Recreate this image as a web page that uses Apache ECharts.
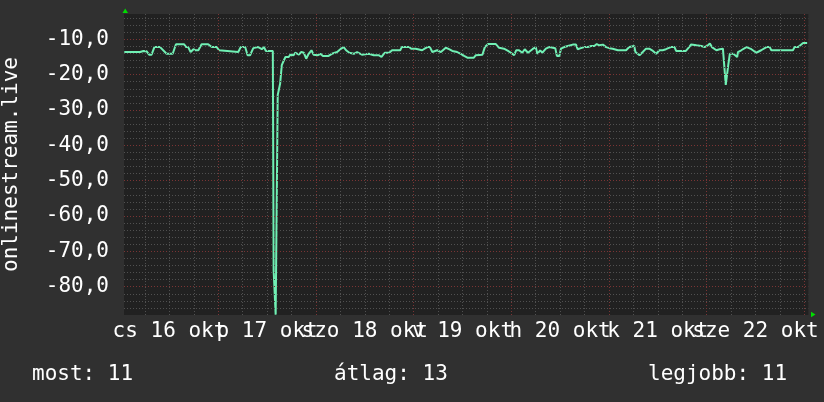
<!DOCTYPE html>
<html>
<head>
<meta charset="utf-8">
<script src="https://cdn.jsdelivr.net/npm/echarts@6/dist/echarts.min.js"></script>
<style>
html,body{margin:0;padding:0;background:#303030;}
#chart{width:824px;height:402px;}
</style>
</head>
<body>
<div id="chart"></div>
<script>
// time in hours from 16 Oct 00:00
const times = [
  0.9, 4.8, 5.0, 5.6, 6.0, 6.4, 7.0, 7.6, 8.3, 9.7,
  11.3, 12.8, 13.6, 15.6, 16.1, 16.6, 17.2, 17.9, 18.4, 19.1,
  19.9, 21.5, 22.4, 23.6, 24.2, 24.6, 28.9, 29.5, 30.6, 31.2,
  31.8, 32.6, 33.8, 34.7, 35.2, 35.7, 37.4, 37.6, 37.9, 38.1,
  38.5, 38.6, 39.0, 39.2, 39.6, 40.1, 40.5, 41.3, 41.7, 42.5,
  42.9, 43.8, 44.4, 45.0, 45.6, 46.2, 46.9, 47.4, 47.8, 48.5,
  49.1, 49.7, 51.1, 51.9, 53.2, 54.0, 54.8, 55.4, 56.2, 57.3,
  58.1, 59.3, 61.0, 62.2, 62.6, 63.4, 64.1, 64.9, 66.0, 66.7,
  68.7, 69.1, 70.4, 70.9, 71.4, 72.5, 72.9, 74.1, 74.7, 75.4,
  76.0, 76.6, 77.8, 78.7, 79.9, 80.7, 81.5, 82.7, 83.6, 84.4,
  85.2, 86.8, 87.3, 88.9, 89.5, 90.3, 92.2, 93.0, 94.2, 95.2,
  95.9, 96.7, 97.2, 97.9, 98.7, 99.3, 100.1, 101.2, 102.0, 102.4,
  103.1, 103.6, 104.5, 105.3, 106.8, 107.2, 107.8, 108.2, 109.0, 109.9,
  111.1, 111.9, 112.3, 113.1, 113.9, 114.8, 115.6, 116.4, 117.0, 117.6,
  118.5, 119.3, 120.1, 120.9, 122.2, 124.2, 125.0, 126.2, 126.5, 127.5,
  128.3, 129.1, 129.9, 130.6, 131.6, 132.4, 133.2, 134.0, 135.2, 136.1,
  136.5, 138.9, 139.7, 140.2, 141.5, 141.9, 142.7, 143.5, 144.3, 144.8,
  145.3, 146.4, 147.2, 148.0, 148.4, 148.7, 149.1, 149.3, 149.7, 150.5,
  151.0, 151.5, 151.7, 152.5, 153.8, 155.0, 156.2, 157.4, 158.7, 159.5,
  159.9, 165.2, 165.6, 166.5, 166.9, 167.7, 168.7
];
const values = [
  -13.6, -13.6, -13.3, -13.3, -13.6, -13.4, -14.35, -14.35, -12.2, -12.2,
  -14.1, -14.1, -11.4, -11.4, -12.2, -12.2, -13.6, -12.8, -13.1, -13.1,
  -11.4, -11.4, -12.2, -12.2, -13.1, -13.6, -13.6, -12.2, -12.2, -14.5,
  -14.5, -12.5, -12.2, -12.8, -12.2, -13.3, -13.3, -75.4, -75.4, -87.9,
  -87.9, -25.8, -25.8, -22.5, -17.3, -16.0, -15.0, -15.0, -14.35, -14.5,
  -13.8, -14.35, -13.6, -13.8, -15.5, -14.1, -13.1, -14.35, -13.8, -14.5,
  -14.1, -14.7, -14.7, -14.1, -13.6, -12.8, -12.2, -13.1, -13.8, -14.1,
  -13.6, -14.35, -14.1, -14.5, -15.0, -14.5, -15.0, -13.8, -13.8, -13.1,
  -13.1, -12.2, -12.2, -12.2, -12.65, -12.65, -13.1, -13.1, -12.65, -12.2,
  -12.2, -13.6, -13.1, -13.6, -12.4, -12.8, -13.3, -13.6, -14.1, -14.7,
  -15.2, -15.2, -14.5, -14.35, -12.2, -11.35, -11.35, -12.4, -12.65, -13.3,
  -13.8, -14.5, -13.1, -13.1, -13.8, -12.8, -13.8, -12.8, -12.2, -14.1,
  -13.1, -13.8, -12.65, -12.2, -12.5, -14.7, -14.7, -12.65, -12.2, -11.9,
  -11.5, -11.5, -12.8, -12.5, -12.2, -12.2, -11.9, -11.9, -11.35, -11.7,
  -11.5, -12.2, -12.5, -12.65, -13.1, -13.1, -12.2, -11.9, -13.6, -14.5,
  -13.6, -12.65, -12.65, -13.1, -14.1, -13.1, -13.1, -12.8, -12.2, -12.2,
  -13.3, -13.3, -12.2, -11.45, -11.7, -12.2, -11.9, -12.2, -11.7, -11.2,
  -12.2, -13.1, -12.8, -12.65, -12.5, -22.9, -22.9, -17.4, -14.1, -14.1,
  -14.5, -15.0, -13.6, -13.1, -12.2, -12.8, -13.8, -13.1, -12.2, -12.2,
  -13.1, -13.1, -12.2, -12.2, -11.7, -11.05, -11.05
];
const yTickValues = [-80, -70, -60, -50, -40, -30, -20, -10];
const yTickLabels = ['-80,0', '-70,0', '-60,0', '-50,0', '-40,0', '-30,0', '-20,0', '-10,0'];
const dayLabelHours = [12, 36, 60, 84, 108, 132, 156];
const dayLabels = ['cs 16 okt', 'p 17 okt', 'szo 18 okt', 'v 19 okt', 'h 20 okt', 'k 21 okt', 'sze 22 okt'];
const legendLabels = ['most: 11', 'átlag: 13', 'legjobb: 11'];
const seriesName = 'onlinestream.live';

const FONT = '"DejaVu Sans Mono", monospace';
const FS = 21;
const X_MIN = 0.83, X_MAX = 168.98, Y_MIN = -88, Y_MAX = -2.84;

// grid line positions (axis guides)
const gridLines = [];
const minorStyle = {color: '#505050', width: 1, type: [1, 2]};
const majorStyle = {color: '#7a3434', width: 1, type: [1, 2]};
for (let v = -86; v <= -4; v += 2) {
  gridLines.push({yAxis: v, lineStyle: (v % 10 === 0) ? majorStyle : minorStyle});
}
for (let h = 6; h <= 168; h += 6) {
  gridLines.push({xAxis: h, lineStyle: (h % 24 === 0) ? majorStyle : minorStyle});
}

// two label rows on the same x scale so overlapping day labels all show
const evenHours = dayLabelHours.filter((h, i) => i % 2 === 0);
const oddHours = dayLabelHours.filter((h, i) => i % 2 === 1);
function xAxisFor(hours) {
  return {
    type: 'value', min: X_MIN, max: X_MAX, position: 'bottom', offset: 0,
    splitLine: {show: false}, axisLine: {show: false}, axisTick: {show: false},
    axisLabel: {
      customValues: hours,
      formatter: v => dayLabels[dayLabelHours.indexOf(Math.round(v))] || '',
      color: '#ffffff', fontFamily: FONT, fontSize: FS, margin: 6, hideOverlap: false,
      showMinLabel: true, showMaxLabel: true
    }
  };
}

const chart = echarts.init(document.getElementById('chart'), null, {renderer: 'canvas'});
chart.setOption({
  animation: false,
  backgroundColor: '#303030',
  grid: {left: 124, top: 14, right: 15.7, bottom: 87, show: true, backgroundColor: '#212121', borderWidth: 0,
    containLabel: false, outerBoundsMode: 'none'},
  xAxis: [xAxisFor(evenHours), xAxisFor(oddHours)],
  yAxis: {
    type: 'value', min: Y_MIN, max: Y_MAX,
    name: seriesName, nameLocation: 'middle', nameGap: 102, nameRotate: 90,
    nameTextStyle: {color: '#ffffff', fontFamily: FONT, fontSize: FS},
    splitLine: {show: false}, axisLine: {show: false}, axisTick: {show: false},
    axisLabel: {
      customValues: yTickValues,
      formatter: v => yTickLabels[yTickValues.indexOf(Math.round(v))] || '',
      color: '#ffffff', fontFamily: FONT, fontSize: FS, margin: 15
    }
  },
  series: [
    {
      type: 'line', data: [], silent: true, z: 1,
      markLine: {silent: true, symbol: ['none', 'none'], label: {show: false}, animation: false,
        emphasis: {disabled: true}, data: gridLines}
    },
    {
      name: seriesName, type: 'line', z: 3,
      data: times.map((t, i) => [t, values[i]]),
      showSymbol: false, symbol: 'none', clip: true,
      lineStyle: {color: '#70f0b4', width: 2},
      emphasis: {disabled: true}
    }
  ],
  graphic: [
    {type: 'polygon', shape: {points: [[122.5, 13], [128, 13], [125.2, 8.5]]}, style: {fill: '#00dd00'}, silent: true},
    {type: 'polygon', shape: {points: [[811, 311.8], [811, 317.2], [815.5, 314.5]]}, style: {fill: '#00dd00'}, silent: true},
    {type: 'text', left: 32, top: 364, style: {text: legendLabels[0], fill: '#ffffff', font: FS + 'px ' + FONT}},
    {type: 'text', left: 334, top: 364, style: {text: legendLabels[1], fill: '#ffffff', font: FS + 'px ' + FONT}},
    {type: 'text', left: 648, top: 364, style: {text: legendLabels[2], fill: '#ffffff', font: FS + 'px ' + FONT}}
  ]
});
</script>
</body>
</html>
